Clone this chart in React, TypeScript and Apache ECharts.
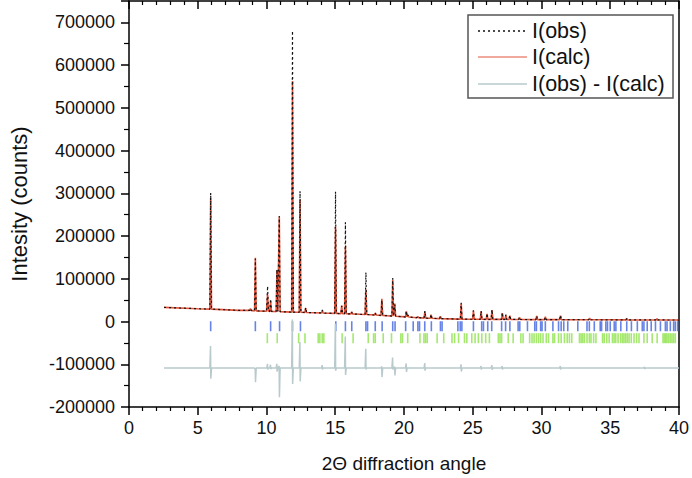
import React, { useEffect, useRef } from "react";
import * as echarts from "echarts";

// background of the observed / calculated profile: [2θ, counts]
const background: number[][] = [
  [2.55, 33000], [5, 30000], [8, 26000], [10, 24000], [12, 22000], [14, 20000],
  [16, 18000], [16.8, 17000], [19, 13000], [21.3, 8500], [24, 5600], [30, 4500],
  [35, 4000], [40, 3500],
];

// peaks: [2θ, base, I(obs) top, I(calc) top]
const peaks: number[][] = [
  [5.94, 29000, 301000, 290000], [8.83, 26000, 31000, 30000], [9.19, 25000, 147000, 149000],
  [10.08, 24000, 83000, 63000], [10.3, 23800, 53000, 47000], [10.76, 23300, 122000, 120000],
  [10.93, 23100, 247000, 245000], [11.89, 22000, 680000, 563000], [12.44, 21600, 305000, 285000],
  [12.85, 21200, 33000, 31000], [14.06, 20000, 27000, 26000], [15.02, 19000, 304000, 222000],
  [15.47, 18500, 36000, 38000], [15.74, 18300, 232000, 176000], [16.19, 17800, 23000, 22000],
  [17.23, 16500, 115000, 75000], [17.91, 15200, 21000, 20000], [18.39, 14300, 50000, 53000],
  [19.18, 12700, 102000, 98000], [19.33, 12400, 40000, 42000], [20.17, 10800, 25000, 24000],
  [20.29, 10600, 15000, 15000], [21.0, 9000, 12000, 12000], [21.52, 8000, 25000, 23000],
  [21.97, 7500, 17000, 16000], [22.65, 6800, 12000, 12000], [24.16, 5500, 44000, 42000],
  [25.05, 5300, 26000, 25000], [25.61, 5200, 25000, 24000], [26.04, 5100, 19000, 18000],
  [26.4, 5100, 28000, 27000], [27.15, 5000, 21000, 20000], [27.41, 5000, 16000, 15000],
  [27.7, 4900, 15000, 14000], [28.4, 4800, 10000, 10000], [29.65, 4500, 13000, 13000],
  [30.28, 4500, 11000, 11000], [31.38, 4400, 15000, 14000], [33.5, 4200, 8000, 8000],
  [36.2, 3900, 7000, 7000], [38.4, 3700, 7000, 7000],
];

// difference curve: flat level and spikes [2θ, up, down]
const diffStart = 2.55;
const diffEnd = 40;
const diffLevel = -109000;
const diffSpikes: number[][] = [
  [5.94, -57000, -134000], [9.19, -112000, -142000], [10.08, -99000, -112000],
  [10.3, -101000, -111000], [10.76, -99000, -117000], [10.93, -104000, -177000],
  [11.89, 5000, -146000], [12.44, -48000, -140000], [14.06, -102000, -112000],
  [15.02, -5000, -115000], [15.74, -35000, -125000], [17.23, -64000, -112000],
  [18.39, -105000, -130000], [19.18, -84000, -112000], [19.33, -106000, -126000],
  [20.17, -98000, -118000], [21.52, -97000, -115000], [24.16, -100000, -117000],
  [25.61, -104000, -112000], [26.4, -102000, -113000], [27.15, -104000, -112000],
  [31.38, -104000, -112000], [37.5, -106000, -111000],
];

// reflection positions (2θ)
const phase1Ticks: number[] = [
  5.94, 9.19, 10.3, 10.95, 11.89, 12.47, 15.04, 15.74, 16.2, 17.23, 17.35, 17.91, 18.41,
  19.18, 19.35, 20.12, 20.67, 21.01, 21.13, 21.51, 21.99, 22.65, 22.77, 23.92, 24.09, 24.21,
  25.05, 25.65, 25.78, 26.09, 26.38, 27.1, 27.39, 27.7, 28.3, 28.42, 28.98, 29.51, 29.63,
  29.94, 30.04, 30.28, 30.83, 31.24, 31.43, 31.62, 31.91, 32.64, 33.31, 33.48, 33.84, 34.27,
  34.37, 34.68, 34.8, 35.0, 35.29, 35.41, 35.77, 36.2, 36.54, 36.97, 37.33, 37.45, 37.69,
  37.98, 38.29, 38.65, 39.01, 39.13, 39.37, 39.61, 39.73, 39.9,
];
const phase2Ticks: number[] = [
  10.06, 10.78, 12.34, 12.8, 13.76, 13.88, 14.05, 14.17, 15.5, 16.3, 17.4, 17.79, 17.91,
  18.49, 19.09, 19.77, 19.89, 20.27, 21.16, 21.45, 21.57, 21.69, 22.41, 22.89, 23.49, 23.68,
  23.97, 24.4, 24.57, 24.93, 25.17, 25.41, 25.66, 25.94, 26.21, 26.86, 26.98, 27.1, 27.58,
  27.94, 28.5, 28.66, 29.14, 29.31, 29.46, 29.63, 29.79, 29.94, 30.11, 30.35, 30.51, 30.83,
  30.95, 31.24, 31.43, 31.67, 31.87, 32.03, 32.2, 32.76, 32.88, 33.0, 33.12, 33.31, 33.48,
  33.6, 33.79, 33.96, 34.44, 34.56, 34.75, 34.92, 35.16, 35.28, 35.4, 35.57, 35.76, 35.89,
  36.0, 36.12, 36.24, 36.37, 36.53, 36.73, 36.92, 37.09, 37.45, 37.69, 38.05, 38.41, 38.84,
  38.94, 39.04, 39.13, 39.25, 39.37, 39.49, 39.61, 39.73,
];
const phase1Level = -11000;
const phase2Level = -39000;

const xTicks = { min: 0, max: 40, interval: 5 };
const yTicks = { min: -200000, max: 750000, interval: 100000 };

const HALF = 0.06;

function profile(col: number): number[][] {
  const pts: number[][] = background.map((p) => [p[0], p[1]]);
  peaks.forEach((p) => {
    pts.push([p[0] - HALF, p[1]], [p[0], p[col]], [p[0] + HALF, p[1]]);
  });
  pts.sort((a, b) => a[0] - b[0]);
  return pts;
}

function diffProfile(): number[][] {
  const pts: number[][] = [[diffStart, diffLevel]];
  diffSpikes.forEach((s) => {
    pts.push([s[0] - HALF, diffLevel], [s[0] - 0.01, s[1]], [s[0] + 0.01, s[2]], [s[0] + HALF, diffLevel]);
  });
  pts.push([diffEnd, diffLevel]);
  pts.sort((a, b) => a[0] - b[0]);
  return pts;
}

const FONT = "Liberation Sans, Arial, sans-serif";

export default function App() {
  const ref = useRef<HTMLDivElement>(null);
  useEffect(() => {
    if (!ref.current) return;
    const chart = echarts.init(ref.current, undefined, { renderer: "svg" });
    const legX = 468;
    const legY = 15;
    chart.setOption({
      animation: false,
      grid: { left: 128, right: 10, top: 1, bottom: 70, containLabel: false },
      xAxis: [
        {
          type: "value",
          min: xTicks.min,
          max: xTicks.max,
          interval: xTicks.interval,
          position: "bottom",
          name: "2Θ diffraction angle",
          nameLocation: "middle",
          nameGap: 47,
          nameTextStyle: { fontFamily: FONT, fontSize: 19, color: "#111" },
          axisLine: { show: true, onZero: false, lineStyle: { color: "#000", width: 1.5 } },
          axisTick: { show: true, inside: false, length: 8, lineStyle: { color: "#000", width: 1.5 } },
          minorTick: { show: true, splitNumber: 5, length: 4, lineStyle: { color: "#000", width: 1.2 } },
          axisLabel: { fontFamily: FONT, fontSize: 18, color: "#111", margin: 12 },
          splitLine: { show: false },
        },
        {
          type: "value",
          min: xTicks.min,
          max: xTicks.max,
          interval: xTicks.interval,
          position: "top",
          axisLine: { show: true, onZero: false, lineStyle: { color: "#000", width: 1.5 } },
          axisTick: { show: true, inside: true, length: 8, lineStyle: { color: "#000", width: 1.5 } },
          minorTick: { show: true, splitNumber: 5, length: 4, lineStyle: { color: "#000", width: 1.2 } },
          axisLabel: { show: false },
          splitLine: { show: false },
        },
      ],
      yAxis: [
        {
          type: "value",
          min: yTicks.min,
          max: yTicks.max,
          interval: yTicks.interval,
          position: "left",
          name: "Intesity (counts)",
          nameLocation: "middle",
          nameGap: 99,
          nameRotate: 90,
          nameTextStyle: { fontFamily: FONT, fontSize: 22, color: "#111" },
          axisLine: { show: true, onZero: false, lineStyle: { color: "#000", width: 1.5 } },
          axisTick: { show: true, inside: false, length: 8, lineStyle: { color: "#000", width: 1.5 } },
          minorTick: { show: true, splitNumber: 2, length: 5, lineStyle: { color: "#000", width: 1.2 } },
          axisLabel: {
            fontFamily: FONT,
            fontSize: 18,
            color: "#111",
            margin: 14,
            showMaxLabel: false,
            formatter: (v: number) => (v > 700000 ? "" : String(v)),
          },
          splitLine: { show: false },
        },
        {
          type: "value",
          min: yTicks.min,
          max: yTicks.max,
          position: "right",
          axisLine: { show: true, onZero: false, lineStyle: { color: "#000", width: 1.5 } },
          axisTick: { show: false },
          axisLabel: { show: false },
          splitLine: { show: false },
        },
      ],
      series: [
        {
          name: "I(calc)",
          type: "line",
          data: profile(3),
          showSymbol: false,
          symbol: "none",
          lineStyle: { color: "#e2553c", width: 1.6 },
          z: 2,
        },
        {
          name: "I(obs)",
          type: "line",
          data: profile(2),
          showSymbol: false,
          symbol: "none",
          lineStyle: { color: "#111", width: 1.2, type: [2, 3] },
          z: 3,
        },
        {
          name: "phase 1",
          type: "scatter",
          data: phase1Ticks.map((x) => [x, phase1Level]),
          symbol: "rect",
          symbolSize: [1.6, 10],
          itemStyle: { color: "#4064de" },
          z: 2,
        },
        {
          name: "phase 2",
          type: "scatter",
          data: phase2Ticks.map((x) => [x, phase2Level]),
          symbol: "rect",
          symbolSize: [1.6, 10],
          itemStyle: { color: "#8de24a" },
          z: 2,
        },
        {
          name: "I(obs) - I(calc)",
          type: "line",
          data: diffProfile(),
          showSymbol: false,
          symbol: "none",
          lineStyle: { color: "#b9cacd", width: 1.5 },
          z: 4,
        },
      ],
      graphic: [
        {
          type: "rect",
          shape: { x: legX, y: legY, width: 205, height: 83 },
          style: { fill: "#fff", stroke: "#555", lineWidth: 1.5 },
          z: 100,
        },
        {
          type: "line",
          shape: { x1: legX + 10, y1: legY + 16, x2: legX + 59, y2: legY + 16 },
          style: { stroke: "#111", lineWidth: 1.3, lineDash: [2, 3] },
          z: 101,
        },
        {
          type: "line",
          shape: { x1: legX + 10, y1: legY + 42, x2: legX + 59, y2: legY + 42 },
          style: { stroke: "#e2553c", lineWidth: 1.2 },
          z: 101,
        },
        {
          type: "line",
          shape: { x1: legX + 10, y1: legY + 69, x2: legX + 59, y2: legY + 69 },
          style: { stroke: "#b9cacd", lineWidth: 1.5 },
          z: 101,
        },
        {
          type: "text",
          x: legX + 64,
          y: legY + 16,
          style: { text: "I(obs)", fontFamily: FONT, fontSize: 21.5, fill: "#111", verticalAlign: "middle" },
          z: 101,
        },
        {
          type: "text",
          x: legX + 64,
          y: legY + 42,
          style: { text: "I(calc)", fontFamily: FONT, fontSize: 21.5, fill: "#111", verticalAlign: "middle" },
          z: 101,
        },
        {
          type: "text",
          x: legX + 64,
          y: legY + 69,
          style: { text: "I(obs) - I(calc)", fontFamily: FONT, fontSize: 21.5, fill: "#111", verticalAlign: "middle" },
          z: 101,
        },
      ],
    });
    return () => chart.dispose();
  }, []);
  return <div ref={ref} style={{ width: 692, height: 478, position: "absolute", left: 0, top: 0 }} />;
}
